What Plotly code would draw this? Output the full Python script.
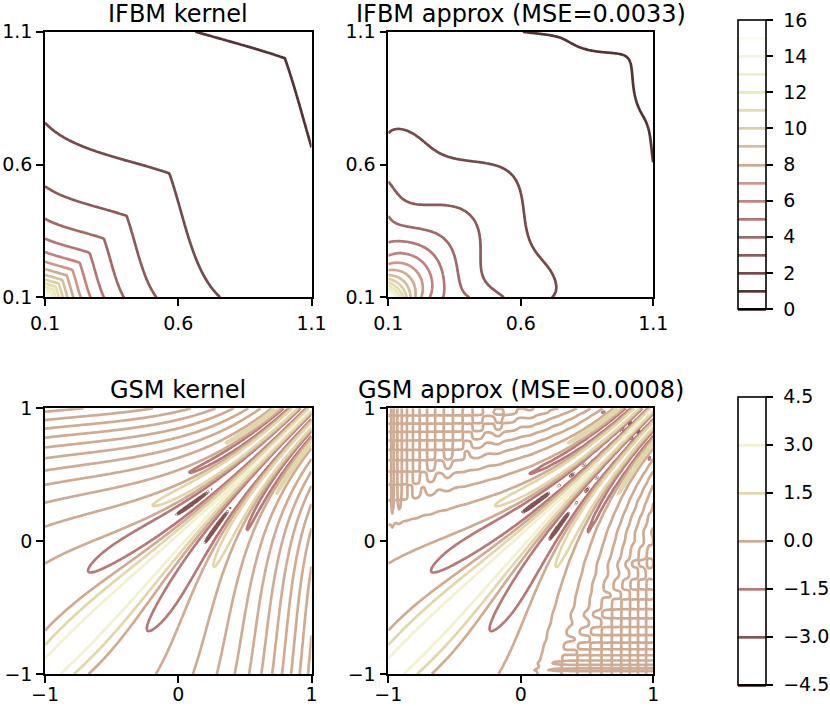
import numpy as np
import plotly.graph_objects as go

# ---------------- text, ticks, levels ----------------
TITLES = ["IFBM kernel", "IFBM approx (MSE=0.0033)",
          "GSM kernel", "GSM approx (MSE=0.0008)"]
MSE_TARGETS = [0.0033, 0.0008]

IFBM_RANGE = [0.1, 1.1]
IFBM_TICKS = [0.1, 0.6, 1.1]
IFBM_LEVELS = dict(start=0, end=16, size=1)
IFBM_CB_TICKS = [0, 2, 4, 6, 8, 10, 12, 14, 16]
IFBM_CB_LABELS = ["0", "2", "4", "6", "8", "10", "12", "14", "16"]

GSM_RANGE = [-1, 1]
GSM_TICKS = [-1, 0, 1]
GSM_CB_TICKS = [-4.5, -3.0, -1.5, 0.0, 1.5, 3.0, 4.5]
GSM_CB_LABELS = ["\u22124.5", "\u22123.0", "\u22121.5", "0.0", "1.5", "3.0", "4.5"]
GSM_LEVELS = dict(start=-4.5, end=4.5, size=1.5)

# ---------------- IFBM kernel parameters ----
IFBM_DIAG_EXP = 1.22      # k(t,t) = t^-1.22  (1 at t=1, 2 at .566, 3 at .405, 4 at .32)
IFBM_RATIO_EXP = 0.15     # growth with log(max/min)
IFBM_KINK_AMP = 0.05
IFBM_KINK_SCALE = 0.3

# ---------------- GSM kernel parameters (read off the contour positions) -----
# zero crossings along the left edge x=-1 (phase difference = odd multiples of pi/2)
GSM_ZERO_T = [-1.0, -0.669, -0.142, 0.114, 0.310, 0.415, 0.530, 0.616,
              0.711, 0.791, 0.857, 0.917, 0.975]
GSM_ZERO_HALFPI = [0, 1, 3, 5, 7, 9, 11, 13, 15, 17, 19, 21, 23]
# variance along the diagonal
GSM_VAR_T = [-1.0, -0.5, -0.1, 0.1, 0.3, 0.5, 0.7, 1.0]
GSM_VAR = [3.85, 3.75, 3.75, 3.7, 3.25, 3.05, 3.05, 3.05]
# lengthscale along the diagonal
GSM_LEN_T = [-1.0, -0.5, 0.0, 0.5, 1.0]
GSM_LEN = [0.31, 0.36, 0.37, 0.33, 0.26]


def pink_colorscale(n=41):
    xs = np.linspace(0, 1, n)
    hr = np.clip(0.0416 + (1 - 0.0416) * xs / 0.365079, 0, 1)
    hg = np.clip((xs - 0.365079) / (0.746032 - 0.365079), 0, 1)
    hb = np.clip((xs - 0.746032) / (1 - 0.746032), 0, 1)
    r = np.sqrt((2 * xs + hr) / 3)
    g = np.sqrt((2 * xs + hg) / 3)
    b = np.sqrt((2 * xs + hb) / 3)
    return [[float(x), "rgb(%d,%d,%d)" % (round(255 * rr), round(255 * gg), round(255 * bb))]
            for x, rr, gg, bb in zip(xs, r, g, b)]


PINK = pink_colorscale()


def smooth_profile(t, knots_t, knots_v, width=0.07):
    fine = np.linspace(-1.5, 1.5, 601)
    v = np.interp(fine, knots_t, knots_v)
    out = np.empty(len(t))
    for i, ti in enumerate(t):
        wgt = np.exp(-0.5 * ((fine - ti) / width) ** 2)
        out[i] = np.sum(wgt * v) / np.sum(wgt)
    return out


def ifbm_kernel(a, b):
    S, T = np.meshgrid(a, b)
    M = np.maximum(S, T)
    m = np.minimum(S, T)
    s = np.log(M / m)
    lnk = (-IFBM_DIAG_EXP * np.log(M) + IFBM_RATIO_EXP * s
           + IFBM_KINK_AMP * (1 - np.exp(-s / IFBM_KINK_SCALE)))
    return np.exp(lnk)


# phase: smooth positive frequency fitted to the spacing of the zero crossings
_tk = np.array(GSM_ZERO_T)
_pk = np.array(GSM_ZERO_HALFPI) * np.pi / 2
_cf = np.polyfit((_tk[1:] + _tk[:-1]) / 2, np.log(np.diff(_pk) / np.diff(_tk)), 3,
                 w=np.sqrt(np.diff(_tk)))
PH_T = np.linspace(-1.05, 1.05, 4201)
_dphi = np.exp(np.polyval(_cf, PH_T))
PH_V = np.concatenate([[0.0], np.cumsum((_dphi[1:] + _dphi[:-1]) / 2 * np.diff(PH_T))])


def gsm_parts(t):
    return (np.interp(t, PH_T, PH_V), np.sqrt(smooth_profile(t, GSM_VAR_T, GSM_VAR)),
            smooth_profile(t, GSM_LEN_T, GSM_LEN))


def gsm_kernel(a, b):
    pa, wa, la = gsm_parts(np.asarray(a))
    pb, wb, lb = gsm_parts(np.asarray(b))
    X, Y = np.meshgrid(a, b)
    PX, PY = np.meshgrid(pa, pb)
    WX, WY = np.meshgrid(wa, wb)
    LX, LY = np.meshgrid(la, lb)
    L2 = LX ** 2 + LY ** 2
    return (WX * WY * np.sqrt(2 * LX * LY / L2) * np.exp(-(X - Y) ** 2 / L2)
            * np.cos(PX - PY))


def chebyshev_approx(kfun, t, target, nmax):
    """Tensor Chebyshev interpolant whose error is closest to the quoted MSE."""
    lo, hi = t.min(), t.max()
    ug = (t - lo) / (hi - lo) * 2 - 1
    K = kfun(t, t)
    best = None
    for n in range(3, nmax):
        un = np.cos(np.pi * (np.arange(n) + 0.5) / n)
        nodes = lo + (un + 1) / 2 * (hi - lo)
        Vn = np.polynomial.chebyshev.chebvander(un, n - 1)
        Vg = np.polynomial.chebyshev.chebvander(ug, n - 1)
        E = Vg @ np.linalg.inv(Vn)
        A = E @ kfun(nodes, nodes) @ E.T
        mse = np.mean((K - A) ** 2)
        score = abs(np.log(mse / target))
        if best is None or score < best[0]:
            best = (score, A)
    return K, best[1]


t_ifbm = np.linspace(IFBM_RANGE[0], IFBM_RANGE[1], 161)
K_ifbm, A_ifbm = chebyshev_approx(ifbm_kernel, t_ifbm, MSE_TARGETS[0], 60)

t_gsm = np.linspace(GSM_RANGE[0], GSM_RANGE[1], 201)
K_gsm, A_gsm = chebyshev_approx(gsm_kernel, t_gsm, MSE_TARGETS[1], 110)

W, H = 830, 706
FONT = "DejaVu Sans"


def px_x(p):
    return p / W


def px_y(p):
    return 1 - p / H


COLS = [(45, 311.5), (388.3, 653.3)]
ROWS = [(31.7, 297.3), (408.3, 674.0)]

fig = go.Figure()

LW = 2.7


def add(z, t, levels, zr, idx, show, cb=None):
    ax = "" if idx == 1 else str(idx)
    fig.add_trace(go.Contour(
        x=t, y=t, z=z, contours=dict(coloring="lines", **levels),
        line=dict(width=LW, smoothing=1), colorscale=PINK,
        zmin=zr[0], zmax=zr[1], zauto=False, showscale=show,
        colorbar=cb, xaxis="x" + ax, yaxis="y" + ax, hoverinfo="skip"))


def cbar(top, length, ticks, labels):
    return dict(x=px_x(738.3), xanchor="left", y=px_y(top), yanchor="top",
                len=length, lenmode="pixels", thickness=28.4, thicknessmode="pixels",
                xpad=0, ypad=0, outlinewidth=1.6, outlinecolor="black",
                ticks="outside", ticklen=7, tickwidth=1.6, tickcolor="black",
                tickvals=ticks, ticktext=["\u00a0" + s for s in labels],
                tickfont=dict(family=FONT, size=19, color="black"))


add(K_ifbm, t_ifbm, IFBM_LEVELS, (0, 16), 1, True,
    cbar(20, 289.3, IFBM_CB_TICKS, IFBM_CB_LABELS))
add(A_ifbm, t_ifbm, IFBM_LEVELS, (0, 16), 2, False)
add(K_gsm, t_gsm, GSM_LEVELS, (-4.5, 4.5), 3, True,
    cbar(396.7, 288.3, GSM_CB_TICKS, GSM_CB_LABELS))
add(A_gsm, t_gsm, GSM_LEVELS, (-4.5, 4.5), 4, False)

layout = dict(width=W, height=H, margin=dict(l=0, r=0, t=0, b=0, autoexpand=False),
              paper_bgcolor="white", plot_bgcolor="white", showlegend=False,
              font=dict(family=FONT, size=19, color="black"))
annotations = []
for i in range(4):
    r, c = divmod(i, 2)
    ax = "" if i == 0 else str(i + 1)
    rng = IFBM_RANGE if r == 0 else GSM_RANGE
    ticks = IFBM_TICKS if r == 0 else GSM_TICKS
    common = dict(range=rng, tickvals=ticks, showgrid=False, zeroline=False,
                  showline=True, linewidth=1.6, linecolor="black", mirror=True,
                  ticks="outside", ticklen=7, tickwidth=1.6, tickcolor="black",
                  automargin=False,
                  tickfont=dict(family=FONT, size=19, color="black"))
    layout["xaxis" + ax] = dict(domain=[px_x(COLS[c][0]), px_x(COLS[c][1])],
                                anchor="y" + ax, ticklabelstandoff=1 if r == 0 else -5,
                                **common)
    layout["yaxis" + ax] = dict(domain=[px_y(ROWS[r][1]), px_y(ROWS[r][0])],
                                anchor="x" + ax, **common)
    annotations.append(dict(text=TITLES[i], xref="paper", yref="paper",
                            x=px_x((COLS[c][0] + COLS[c][1]) / 2),
                            y=px_y(ROWS[r][0] - 18.0), xanchor="center",
                            yanchor="middle", showarrow=False,
                            font=dict(family=FONT, size=24, color="black")))
layout["annotations"] = annotations
fig.update_layout(**layout)
fig.write_html("out.html", config={"displayModeBar": False},
               post_script="document.body.style.margin='0';"
                           "document.body.style.overflow='hidden';")
